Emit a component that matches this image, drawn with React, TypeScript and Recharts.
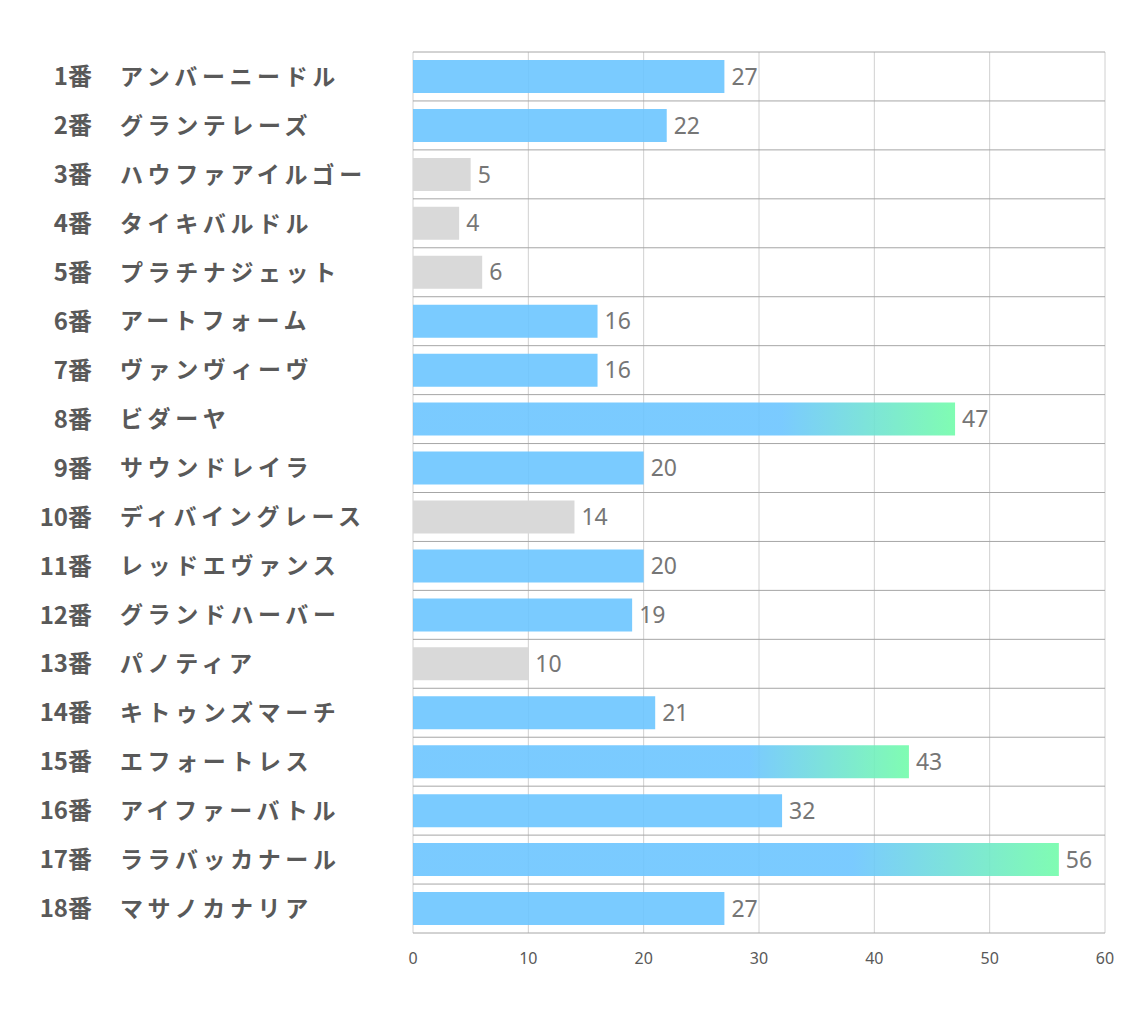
import { Bar, BarChart, CartesianGrid, Cell, LabelList, XAxis, YAxis } from "recharts";

const horseNumbers = [1, 2, 3, 4, 5, 6, 7, 8, 9, 10, 11, 12, 13, 14, 15, 16, 17, 18];
const horseNames = [
  "アンバーニードル",
  "グランテレーズ",
  "ハウファアイルゴー",
  "タイキバルドル",
  "プラチナジェット",
  "アートフォーム",
  "ヴァンヴィーヴ",
  "ビダーヤ",
  "サウンドレイラ",
  "ディバイングレース",
  "レッドエヴァンス",
  "グランドハーバー",
  "パノティア",
  "キトゥンズマーチ",
  "エフォートレス",
  "アイファーバトル",
  "ララバッカナール",
  "マサノカナリア"
];
const scores = [27, 22, 5, 4, 6, 16, 16, 47, 20, 14, 20, 19, 10, 21, 43, 32, 56, 27];
// "blue" normal, "gray" low, "top" highlighted with gradient
const barKinds = [
  "blue", "blue", "gray", "gray", "gray", "blue", "blue", "top", "blue",
  "gray", "blue", "blue", "gray", "blue", "top", "blue", "top", "blue"
];
const xTicks = [0, 10, 20, 30, 40, 50, 60];

const data = horseNumbers.map((no, i) => ({
  label: `${no}番`,
  name: horseNames[i],
  score: scores[i],
  kind: barKinds[i]
}));

const JP_FONT = '"Noto Sans CJK JP", "Noto Sans", sans-serif';

function HorseTick(props: any) {
  const { y, payload } = props;
  const row = data[payload.index];
  return (
    <g transform={`translate(0, ${y})`}>
      <text
        x={84}
        y={0}
        dy="0.36em"
        textAnchor="end"
        fill="#595959"
        fontFamily={JP_FONT}
        fontWeight="bold"
        fontSize={24}
      >
        {row.label}
      </text>
      <text
        x={112}
        y={0}
        dy="0.36em"
        textAnchor="start"
        fill="#595959"
        fontFamily={JP_FONT}
        fontWeight="bold"
        fontSize={23}
        letterSpacing={4.6}
      >
        {row.name}
      </text>
    </g>
  );
}

function fillFor(kind: string) {
  if (kind === "gray") return "#d9d9d9";
  if (kind === "top") return "url(#topGrad)";
  return "#6cc5ff";
}

export default function App() {
  return (
    <div style={{ width: 1118, height: 1004 }}>
      <BarChart
        width={1118}
        height={1004}
        data={data}
        layout="vertical"
        margin={{ top: 44, right: 21, bottom: 39, left: 0 }}
        barSize={33}
      >
        <defs>
          <linearGradient id="topGrad" x1="0" y1="0" x2="1" y2="0">
            <stop offset="0" stopColor="#6cc5ff" />
            <stop offset="0.68" stopColor="#6cc5ff" />
            <stop offset="1" stopColor="#72fcaa" />
          </linearGradient>
        </defs>
        <CartesianGrid horizontal={false} stroke="#d0d0d0" strokeWidth={1} />
        <CartesianGrid
          vertical={false}
          stroke="#a6a6a6"
          strokeWidth={1}
          horizontalCoordinatesGenerator={({ offset }: any) =>
            horseNumbers
              .concat([0])
              .map((_, i) => offset.top + (i * offset.height) / horseNumbers.length)
          }
        />
        <XAxis
          type="number"
          domain={[0, 60]}
          ticks={xTicks}
          axisLine={false}
          tickLine={false}
          tickMargin={14}
          height={40}
          tick={{ fill: "#595959", fontSize: 16, fontFamily: '"Noto Sans", sans-serif' }}
        />
        <YAxis
          type="category"
          dataKey="name"
          width={405}
          axisLine={false}
          tickLine={false}
          interval={0}
          tick={<HorseTick />}
        />
        <Bar dataKey="score" isAnimationActive={false}>
          {data.map((d, i) => (
            <Cell key={i} fill={fillFor(d.kind)} fillOpacity={d.kind === "gray" ? 1 : 0.9} />
          ))}
          <LabelList
            dataKey="score"
            position="right"
            offset={7}
            fill="#767676"
            fontSize={23}
            fontFamily='"Noto Sans", sans-serif'
          />
        </Bar>
      </BarChart>
    </div>
  );
}
